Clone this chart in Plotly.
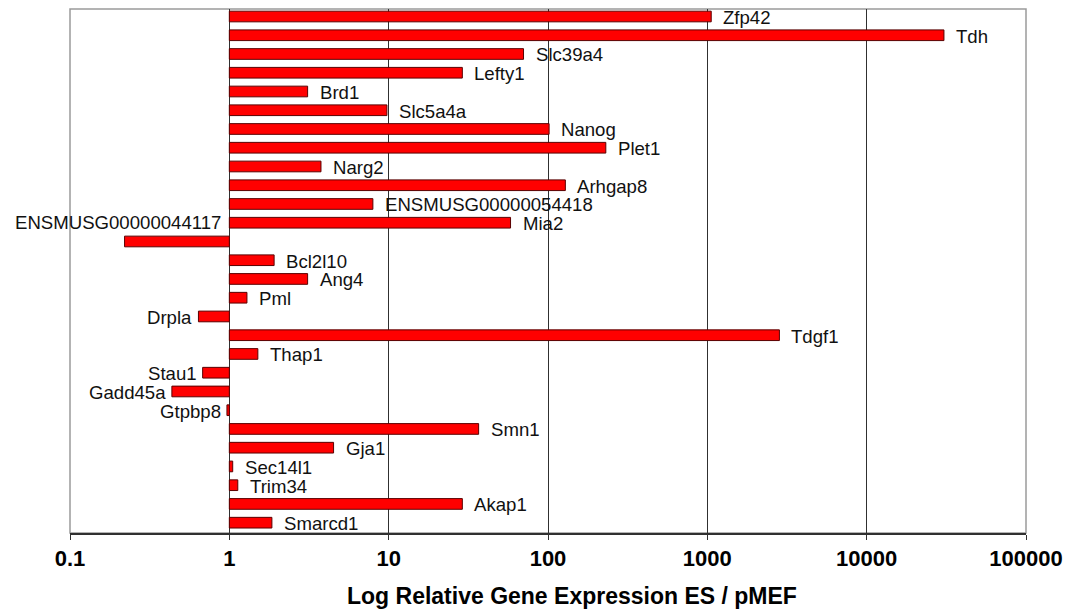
import numpy as np
import plotly.graph_objects as go

genes = ["Zfp42", "Tdh", "Slc39a4", "Lefty1", "Brd1", "Slc5a4a", "Nanog", "Plet1",
         "Narg2", "Arhgap8", "ENSMUSG00000054418", "Mia2", "ENSMUSG00000044117",
         "Bcl2l10", "Ang4", "Pml", "Drpla", "Tdgf1", "Thap1", "Stau1", "Gadd45a",
         "Gtpbp8", "Smn1", "Gja1", "Sec14l1", "Trim34", "Akap1", "Smarcd1"]
ratio = [1058, 30550, 70.2, 29.0, 3.10, 9.75, 101.6, 230.6,
         3.76, 128.5, 7.96, 58.2, 0.220,
         1.91, 3.10, 1.29, 0.64, 2834, 1.51, 0.68, 0.436,
         0.966, 36.7, 4.51, 1.05, 1.13, 29.0, 1.85]
tick_vals = [0.1, 1, 10, 100, 1000, 10000, 100000]
tick_text = ["0.1", "1", "10", "100", "1000", "10000", "100000"]
x_title = "Log Relative Gene Expression ES / pMEF"

FONT = "Arial, 'Liberation Sans', sans-serif"
r = np.array(ratio, dtype=float)

fig = go.Figure()
fig.add_trace(go.Bar(
    y=genes, x=r - 1.0, base=1.0, orientation="h",
    width=0.57,
    marker=dict(color="#ff0000", line=dict(color="#5a0000", width=1)),
    hoverinfo="skip", showlegend=False,
))

lab_font = dict(family=FONT, size=18.6, color="#111")
annotations = []
for g, v in zip(genes, ratio):
    if g == "ENSMUSG00000044117":
        annotations.append(dict(x=0, y=g, text=g, xref="x", yref="y",
                                showarrow=False, xanchor="right", xshift=-6,
                                yshift=19, font=lab_font))
    elif v >= 1:
        annotations.append(dict(x=np.log10(v), y=g, text=g, xref="x", yref="y",
                                showarrow=False, xanchor="left", xshift=10,
                                yshift=-1, font=lab_font))
    else:
        annotations.append(dict(x=np.log10(v), y=g, text=g, xref="x", yref="y",
                                showarrow=False, xanchor="right", xshift=-4,
                                yshift=-1, font=lab_font))

annotations.append(dict(x=0.5247, y=-0.149, xref="paper", yref="paper",
                        text=x_title, showarrow=False,
                        xanchor="center", yanchor="bottom",
                        font=dict(family=FONT, size=23, color="#000", weight="bold")))

fig.update_layout(
    width=1072, height=613,
    margin=dict(l=70, r=43, t=9, b=80),
    paper_bgcolor="white", plot_bgcolor="white",
    annotations=annotations,
    shapes=[dict(type="rect", xref="paper", yref="paper", x0=0, x1=1, y0=0, y1=1,
                 line=dict(color="#9a9a9a", width=1.5), layer="below")],
    xaxis=dict(
        type="log", range=[-1, 5],
        tickvals=tick_vals, ticktext=tick_text,
        showgrid=True, gridcolor="#303030", gridwidth=1,
        showline=True, linecolor="#303030", linewidth=2,
        ticks="outside", ticklen=5, tickcolor="#303030",
        tickfont=dict(family=FONT, size=22, color="#000", weight="bold"),
        zeroline=False,
    ),
    yaxis=dict(
        type="category", range=[27.55, -0.4],
        showticklabels=False, showgrid=False, zeroline=False, ticks="",
    ),
)

fig.write_html("out.html")
